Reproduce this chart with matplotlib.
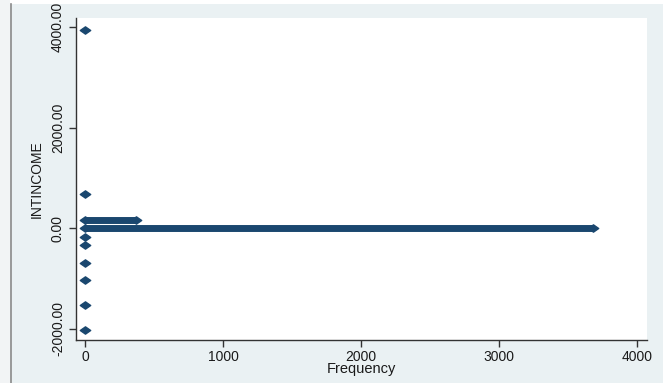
import matplotlib
matplotlib.use("Agg")
import matplotlib.pyplot as plt
from matplotlib.path import Path
from matplotlib.lines import Line2D
from matplotlib.patches import Rectangle

# Distinct INTINCOME values and how many observations take each value
intincome = [3940, 680, 175, 0, -165, -330, -690, -1020, -1530, -2030]
frequency = [1, 1, 370, 3680, 1, 1, 1, 1, 1, 1]

x_ticks = [0, 1000, 2000, 3000, 4000]
y_ticks = [-2000, 0, 2000, 4000]

navy = "#1a476f"
bg = "#eaf1f3"

plt.rcParams["font.family"] = ["Liberation Sans", "DejaVu Sans"]

W, H = 663, 383
fig = plt.figure(figsize=(W / 100, H / 100), dpi=100)
fig.patch.set_facecolor(bg)

# thin white strip along the top and grey frame line at the left
fig.add_artist(Rectangle((0, 1 - 4 / H), 1, 4 / H, transform=fig.transFigure,
                         facecolor="white", edgecolor="none"))
fig.add_artist(Rectangle((0, 0), 10 / W, 1, transform=fig.transFigure,
                         facecolor="#f2f4f5", edgecolor="none"))
fig.add_artist(Line2D([10.5 / W, 10.5 / W], [0, 1 - 4 / H], transform=fig.transFigure,
                      color="#8a8a8a", lw=1.2))

left, right, top, bottom = 76, 647, 18, 340
ax = fig.add_axes([left / W, (H - bottom) / H, (right - left) / W, (bottom - top) / H])
ax.set_facecolor("white")

# wide diamond like Stata's marker
diamond = Path([(-1, 0), (0, 0.7), (1, 0), (0, -0.7), (-1, 0)],
               [Path.MOVETO, Path.LINETO, Path.LINETO, Path.LINETO, Path.CLOSEPOLY])

for v, f in zip(intincome, frequency):
    if f > 5:
        ax.plot([0, f], [v, v], color=navy, lw=5.0, solid_capstyle="butt", zorder=2)
        ax.plot([0, f], [v, v], linestyle="none", marker=diamond, markersize=7.5,
                color=navy, zorder=3)
    else:
        ax.plot([f], [v], linestyle="none", marker=diamond, markersize=7.5,
                color=navy, zorder=3)

ax.set_xlim(-65, 4072)
ax.set_ylim(-2220, 4180)

ax.set_xticks(x_ticks)
ax.set_xticklabels([str(t) for t in x_ticks])
ax.set_yticks(y_ticks)
ax.set_yticklabels([f"{t:.2f}" for t in y_ticks], rotation=90, va="center")

for s in ("top", "right"):
    ax.spines[s].set_visible(False)
for s in ("left", "bottom"):
    ax.spines[s].set_color("#333333")
    ax.spines[s].set_linewidth(1.0)

ax.tick_params(axis="both", length=5, width=1.0, color="#333333",
               labelsize=10, labelcolor="#1a1a1a")
ax.tick_params(axis="y", pad=3)
ax.tick_params(axis="x", pad=2)

ax.set_xlabel("Frequency", fontsize=10.5, color="#1a1a1a", labelpad=-1)
ax.set_ylabel("INTINCOME", fontsize=10, color="#1a1a1a", labelpad=5)

fig.savefig("out.png", dpi=100, facecolor=fig.get_facecolor())
